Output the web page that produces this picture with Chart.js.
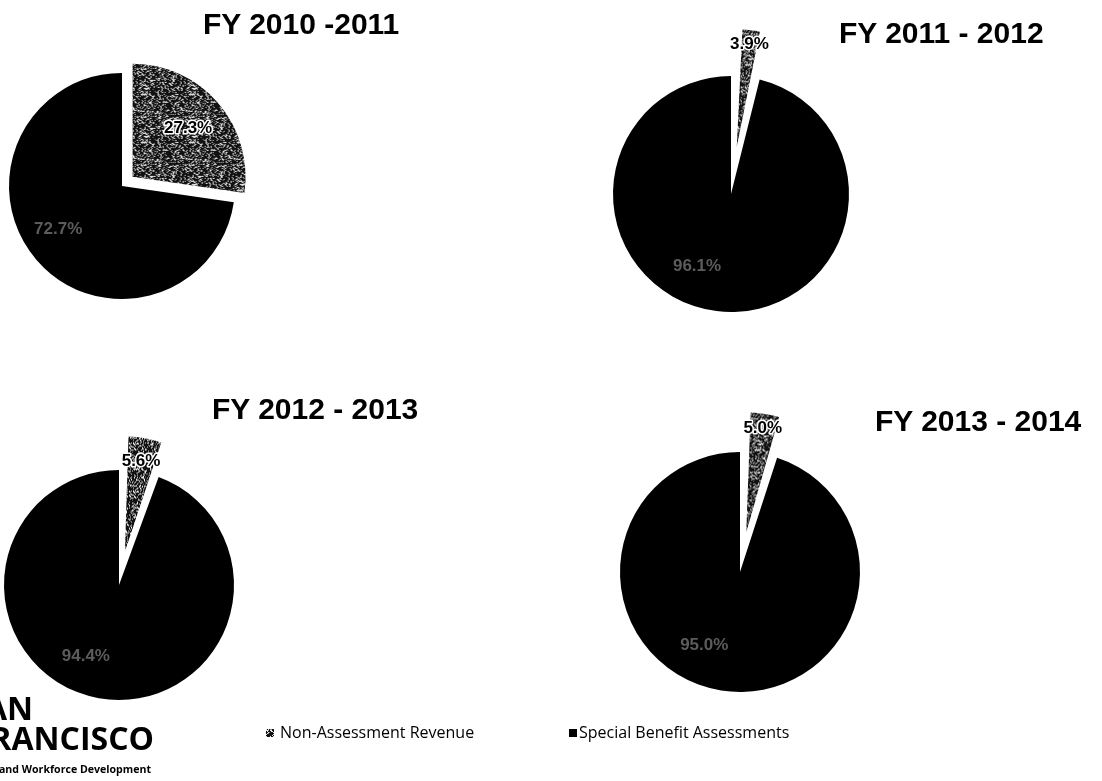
<!DOCTYPE html>
<html>
<head>
<meta charset="utf-8">
<script src="https://cdn.jsdelivr.net/npm/chart.js@4.4.1/dist/chart.umd.min.js"></script>
<style>
  html, body { margin: 0; padding: 0; background: #fff; }
  body { width: 1102px; height: 781px; position: relative; overflow: hidden; }
  canvas.pie { position: absolute; }
  .title { position: absolute; font: bold 30px "Liberation Sans", Arial, sans-serif; line-height: 30px; white-space: nowrap; color: #000; z-index: 2; }
  .logo { position: absolute; font-family: "Open Sans", sans-serif; font-weight: 700; white-space: nowrap; color: #000; text-align: right; }
  .legend { position: absolute; top: 724px; font: 16px/16px "Open Sans", sans-serif; white-space: nowrap; color: #000; }
  .mark { position: absolute; top: 729px; width: 8px; height: 8px; }
</style>
</head>
<body>
<canvas class="pie" id="pie0" width="360" height="360"></canvas>
<canvas class="pie" id="pie1" width="360" height="360"></canvas>
<canvas class="pie" id="pie2" width="360" height="360"></canvas>
<canvas class="pie" id="pie3" width="360" height="360"></canvas>

<div class="logo" style="top:692px; right:1069px; font-size:32px; line-height:32px;">SAN</div>
<div class="logo" style="top:722px; right:948px; font-size:32px; line-height:32px;">FRANCISCO</div>
<div class="logo" style="top:764px; right:951px; font-size:10.6px; line-height:11px;">Office of Economic and Workforce Development</div>

<canvas class="mark" id="mark0" width="8" height="8" style="left:266px;"></canvas>
<div class="legend" id="leg0" style="left:280px;"></div>
<div class="mark" style="left:569px; background:#000;"></div>
<div class="legend" id="leg1" style="left:579px;"></div>

<script>
"use strict";
// values (percent of revenue)
const categories = ['Non-Assessment Revenue', 'Special Benefit Assessments'];
const years = ['FY 2010 -2011', 'FY 2011 - 2012', 'FY 2012 - 2013', 'FY 2013 - 2014'];
const nonAssessment = [27.3, 3.9, 5.6, 5.0];
const specialBenefit = [72.7, 96.1, 94.4, 95.0];

// where each pie sits on the page
const layout = [
    { cx: 122, cy: 186, r: 113, explode: 14, smallR: 0.65, mainTurn: 7,  title: [203, 9] },
    { cx: 731, cy: 194, r: 118, explode: 47, smallR: 0.88, mainTurn: 18, title: [839, 18] },
    { cx: 119, cy: 585, r: 115, explode: 34, smallR: 0.8,  mainTurn: 15, title: [212, 394] },
    { cx: 740, cy: 572, r: 120, explode: 40, smallR: 0.88, mainTurn: 17, title: [875, 406] }
];

// scanned grey stipple used for the non-assessment slice (fixed hash, not data)
function stippleTile() {
    const n = 48;
    const c = document.createElement('canvas');
    c.width = c.height = n;
    const g = c.getContext('2d');
    g.fillStyle = '#111';
    g.fillRect(0, 0, n, n);
    for (let i = 0; i < n; i++) {
        for (let j = 0; j < n; j++) {
            let h = Math.imul(i, 374761393) + Math.imul(j, 668265263);
            h = Math.imul(h ^ (h >>> 13), 1274126177);
            h = (h ^ (h >>> 16)) >>> 0;
            const v = (h % 1000) / 1000;
            if (v < 0.22) {
                g.fillStyle = '#e6e6e6';
                g.fillRect(i, j, 1, 1);
            } else if (v < 0.3) {
                g.fillStyle = '#8a8a8a';
                g.fillRect(i, j, 1, 1);
            }
        }
    }
    return c;
}
const tile = stippleTile();

// chart.js grows the radius of a narrow offset slice; undo that so slices keep the pie radius
const explodeFix = {
    id: 'explodeFix',
    afterDatasetsUpdate(chart) {
        chart.getDatasetMeta(0).data.forEach(arc => {
            const off = (arc.options.offset || 0) / 4;
            const fix = 1 - Math.sin(Math.min(Math.PI, arc.circumference));
            arc.outerRadius -= off * fix;
        });
    }
};

const sliceLabels = {
    id: 'sliceLabels',
    afterDatasetsDraw(chart, args, opts) {
        const ctx = chart.ctx;
        const meta = chart.getDatasetMeta(0);
        const vals = chart.data.datasets[0].data;
        ctx.save();
        ctx.font = 'bold 17px "Liberation Sans", Arial, sans-serif';
        ctx.textAlign = 'center';
        ctx.textBaseline = 'middle';
        meta.data.forEach((arc, i) => {
            const mid = (arc.startAngle + arc.endAngle) / 2;
            const shift = (arc.options.offset || 0) / 4;
            const ang = i === 0 ? mid : mid + opts.mainTurn * Math.PI / 180;
            const rad = (i === 0 ? opts.smallR : 0.68) * opts.r;
            const x = arc.x + Math.cos(mid) * shift + Math.cos(ang) * rad;
            const y = arc.y + Math.sin(mid) * shift + Math.sin(ang) * rad;
            const text = vals[i].toFixed(1) + '%';
            if (i === 0) {
                ctx.lineWidth = 3;
                ctx.strokeStyle = '#fff';
                ctx.lineJoin = 'round';
                ctx.strokeText(text, x, y);
                ctx.fillStyle = '#000';
                ctx.fillText(text, x, y);
            } else {
                ctx.fillStyle = '#5c5c5c';
                ctx.fillText(text, x, y);
            }
        });
        ctx.restore();
    }
};

layout.forEach((p, k) => {
    const canvas = document.getElementById('pie' + k);
    canvas.style.left = (p.cx - 180) + 'px';
    canvas.style.top = (p.cy - 180) + 'px';
    const ctx = canvas.getContext('2d');
    const pattern = ctx.createPattern(tile, 'repeat');
    new Chart(ctx, {
        type: 'pie',
        data: {
            labels: categories,
            datasets: [{
                data: [nonAssessment[k], specialBenefit[k]],
                backgroundColor: [pattern, '#000000'],
                borderWidth: 0,
                offset: [p.explode * 4, 0]
            }]
        },
        options: {
            responsive: false,
            animation: false,
            radius: p.r,
            layout: { padding: 0 },
            events: [],
            plugins: {
                legend: { display: false },
                tooltip: { enabled: false },
                sliceLabels: { r: p.r, smallR: p.smallR, mainTurn: p.mainTurn }
            }
        },
        plugins: [explodeFix, sliceLabels]
    });

    const t = document.createElement('div');
    t.className = 'title';
    t.textContent = years[k];
    t.style.left = p.title[0] + 'px';
    t.style.top = p.title[1] + 'px';
    document.body.appendChild(t);
});

document.getElementById('leg0').textContent = categories[0];
document.getElementById('leg1').textContent = categories[1];
const mk = document.getElementById('mark0').getContext('2d');
mk.fillStyle = mk.createPattern(tile, 'repeat');
mk.fillRect(0, 0, 8, 8);
</script>
</body>
</html>
